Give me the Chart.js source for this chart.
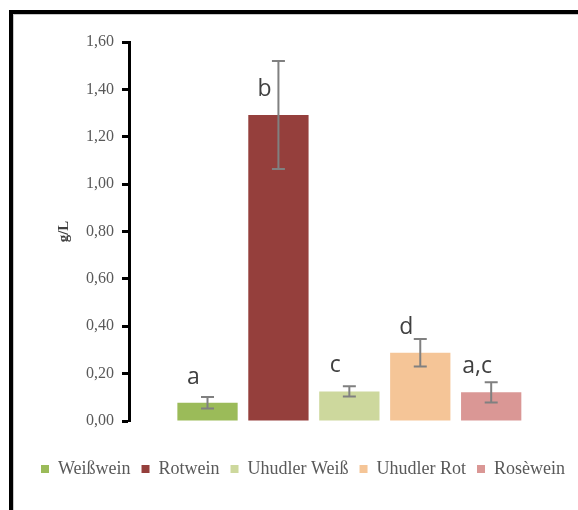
<!DOCTYPE html>
<html>
<head>
<meta charset="utf-8">
<script src="https://cdn.jsdelivr.net/npm/chart.js@4/dist/chart.umd.min.js"></script>
<style>
  html, body { margin: 0; padding: 0; background: #fff; overflow: hidden; }
  #wrap { position: relative; width: 578px; height: 510px; overflow: hidden; }
  #c { position: absolute; left: 0; top: 0; }
  #frame {
    position: absolute; left: 9px; top: 10px; width: 700px; height: 700px;
    border-left: 4px solid #000; border-top: 4px solid #000;
    box-shadow: inset 1px 1px 0 #c8c8c8; pointer-events: none;
  }
</style>
</head>
<body>
<div id="wrap">
  <canvas id="c" width="578" height="510"></canvas>
  <div id="frame"></div>
</div>
<script>
// Wine types, mean concentration (g/L), standard deviation and significance letters
const categories = ['Weißwein', 'Rotwein', 'Uhudler Weiß', 'Uhudler Rot', 'Rosèwein'];
const means = [0.077, 1.292, 0.125, 0.288, 0.121];
const errors = [0.024, 0.228, 0.022, 0.058, 0.043];
const letters = ['a', 'b', 'c', 'd', 'a,c'];
const colors = ['#9BBB59', '#953F3C', '#CDD89D', '#F5C597', '#DA9795'];
const yTicks = [0, 0.2, 0.4, 0.6, 0.8, 1.0, 1.2, 1.4, 1.6];

// One dataset per wine type so each gets its own legend entry
const datasets = categories.map((name, i) => ({
  label: name,
  data: [{ x: i + 1, y: means[i] }],
  backgroundColor: colors[i],
  borderWidth: 0,
  grouped: false,
  barPercentage: 0.85,
  categoryPercentage: 1.0
}));

// Standard deviation whiskers
const errorBars = {
  id: 'errorBars',
  afterDatasetsDraw(chart) {
    const ctx = chart.ctx;
    const y = chart.scales.y;
    ctx.save();
    ctx.strokeStyle = '#808080';
    ctx.lineWidth = 2;
    chart.data.datasets.forEach((ds, i) => {
      const bar = chart.getDatasetMeta(i).data[0];
      const top = y.getPixelForValue(means[i] + errors[i]);
      const bot = y.getPixelForValue(means[i] - errors[i]);
      const cap = 6.5;
      ctx.beginPath();
      ctx.moveTo(bar.x, top); ctx.lineTo(bar.x, bot);
      ctx.moveTo(bar.x - cap, top); ctx.lineTo(bar.x + cap, top);
      ctx.moveTo(bar.x - cap, bot); ctx.lineTo(bar.x + cap, bot);
      ctx.stroke();
    });
    ctx.restore();
  }
};

// Significance letters above each bar
const sigLetters = {
  id: 'sigLetters',
  afterDatasetsDraw(chart) {
    const ctx = chart.ctx;
    ctx.save();
    ctx.font = '23px "Open Sans"';
    ctx.fillStyle = '#404040';
    ctx.textAlign = 'center';
    ctx.textBaseline = 'alphabetic';
    chart.data.datasets.forEach((ds, i) => {
      const bar = chart.getDatasetMeta(i).data[0];
      ctx.fillText(letters[i], bar.x - 14, bar.y - 19);
    });
    ctx.restore();
  }
};

new Chart(document.getElementById('c'), {
  type: 'bar',
  data: { datasets },
  options: {
    responsive: false,
    devicePixelRatio: 1,
    animation: false,
    layout: { padding: { left: 28, right: 0, top: 42, bottom: 22 } },
    plugins: {
      tooltip: { enabled: false },
      legend: {
        position: 'bottom',
        labels: {
          boxWidth: 8,
          boxHeight: 8,
          padding: 11,
          color: '#595959',
          font: { family: '"Liberation Serif", "Times New Roman", serif', size: 18 }
        }
      }
    },
    scales: {
      x: {
        type: 'linear',
        offset: false,
        min: -0.107,
        max: 6.224,
        grid: { display: false },
        border: { display: false },
        ticks: { display: false },
        afterFit(scale) { scale.height = 28; }
      },
      y: {
        min: 0,
        max: 1.6,
        afterBuildTicks(scale) { scale.ticks = yTicks.map(v => ({ value: v })); },
        grid: { drawOnChartArea: false, drawTicks: true, tickLength: 7, tickWidth: 3, tickColor: '#000' },
        border: { display: true, color: '#000', width: 3 },
        ticks: {
          padding: 8,
          color: '#595959',
          font: { family: '"Liberation Serif", "Times New Roman", serif', size: 16 },
          callback: v => v.toFixed(2).replace('.', ',')
        },
        title: {
          display: true,
          text: 'g/L',
          color: '#404040',
          padding: { top: 27, bottom: 5 },
          font: { family: '"Liberation Serif", "Times New Roman", serif', size: 15, weight: 'bold' }
        }
      }
    }
  },
  plugins: [errorBars, sigLetters]
});
</script>
</body>
</html>
